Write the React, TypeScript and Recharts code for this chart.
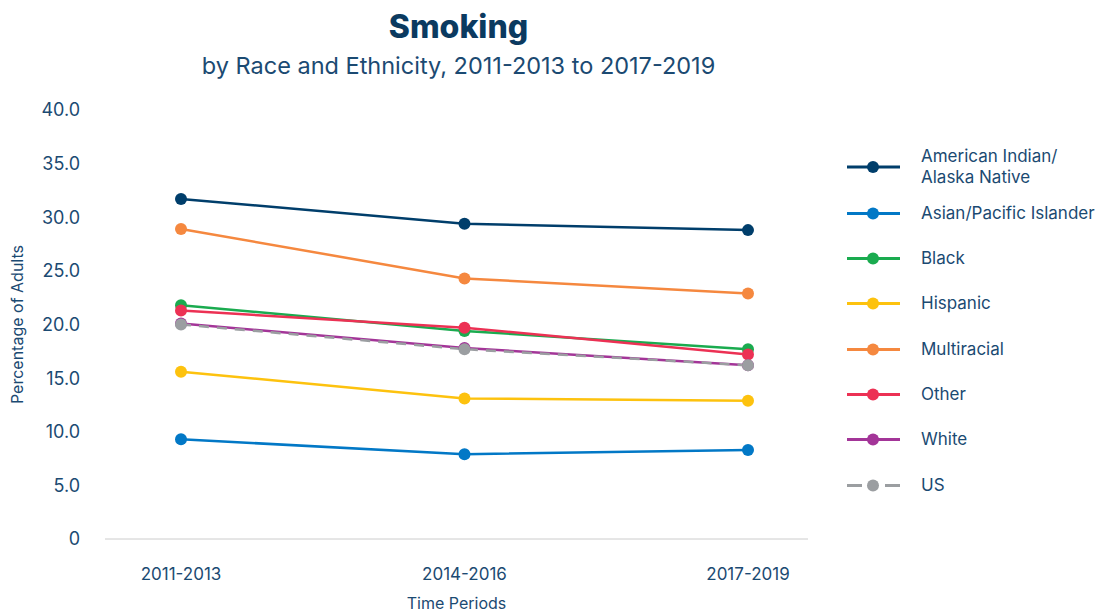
import React from "react";
import { LineChart, Line, XAxis, YAxis } from "recharts";

const periods = ["2011-2013", "2014-2016", "2017-2019"];
const aian = [31.7, 29.4, 28.8];
const asianPI = [9.3, 7.9, 8.3];
const black = [21.8, 19.4, 17.7];
const hispanic = [15.6, 13.1, 12.9];
const multiracial = [28.9, 24.3, 22.9];
const other = [21.3, 19.7, 17.2];
const white = [20.1, 17.8, 16.2];
const us = [20.0, 17.7, 16.2];
const yTicks = [0, 5, 10, 15, 20, 25, 30, 35, 40];

const series = [
  { key: "aian", name: "American Indian/\nAlaska Native", values: aian, color: "#003e6b" },
  { key: "asian", name: "Asian/Pacific Islander", values: asianPI, color: "#0278c6" },
  { key: "black", name: "Black", values: black, color: "#1aab4f" },
  { key: "hispanic", name: "Hispanic", values: hispanic, color: "#fdc20e" },
  { key: "multi", name: "Multiracial", values: multiracial, color: "#f5883f" },
  { key: "other", name: "Other", values: other, color: "#ec3154" },
  { key: "white", name: "White", values: white, color: "#a33598" },
  { key: "us", name: "US", values: us, color: "#9b9ea1", dashed: true },
];

const data = periods.map((p, i) => {
  const row: Record<string, string | number> = { period: p };
  series.forEach((s) => (row[s.key] = s.values[i]));
  return row;
});

const textColor = "#1b4a72";
const font = "Inter, 'Open Sans', sans-serif";

// legend row centres (y) in page pixels
const legendRows = [167, 213, 258, 303, 349, 394, 439, 485];

const LegendBox = () => (
  <div style={{ position: "absolute", left: 846, top: 0, fontFamily: font, color: textColor, fontSize: 17 }}>
    {series.map((s, i) => (
      <div
        key={s.key}
        style={{ position: "absolute", left: 0, top: legendRows[i], transform: "translateY(-50%)", display: "flex", alignItems: "center" }}
      >
        <svg width={56} height={14} style={{ flexShrink: 0 }}>
          {s.dashed ? (
            <>
              <line x1={1} x2={16} y1={7} y2={7} stroke={s.color} strokeWidth={3} />
              <line x1={39} x2={54} y1={7} y2={7} stroke={s.color} strokeWidth={3} />
            </>
          ) : (
            <line x1={1} x2={54} y1={7} y2={7} stroke={s.color} strokeWidth={3} />
          )}
          <circle cx={27} cy={7} r={6} fill={s.color} />
        </svg>
        <div style={{ marginLeft: 19, whiteSpace: "pre", lineHeight: "21px" }}>{s.name}</div>
      </div>
    ))}
  </div>
);

export default function App() {
  return (
    <div style={{ position: "absolute", left: 0, top: 0, width: 1097, height: 612, background: "#fff", fontFamily: font }}>
      <div style={{ position: "absolute", left: 0, width: 917, top: 7, textAlign: "center", color: "#0b3a60", fontSize: 32, fontWeight: 800 }}>
        Smoking
      </div>
      <div style={{ position: "absolute", left: 0, width: 917, top: 51, textAlign: "center", color: textColor, fontSize: 23.5 }}>
        by Race and Ethnicity, 2011-2013 to 2017-2019
      </div>
      <LineChart width={830} height={612} data={data} margin={{ top: 110, right: 22, left: 0, bottom: 0 }} style={{ position: "absolute", left: 0, top: 0 }}>
        <XAxis
          dataKey="period"
          height={73}
          padding={{ left: 76, right: 60 }}
          axisLine={{ stroke: "#cccccc" }}
          tickLine={false}
          tickMargin={23}
          tick={{ fill: textColor, fontSize: 17, fontFamily: font }}
          label={{ value: "Time Periods", position: "insideBottom", offset: 3, fill: textColor, fontSize: 16, fontFamily: font }}
        />
        <YAxis
          domain={[0, 40]}
          ticks={yTicks}
          width={105}
          axisLine={false}
          tickLine={false}
          tickMargin={19}
          tickFormatter={(v: number) => (v === 0 ? "0" : v.toFixed(1))}
          tick={{ fill: textColor, fontSize: 18, fontFamily: font }}
          label={{ value: "Percentage of Adults", angle: -90, position: "insideLeft", offset: 17, fill: textColor, fontSize: 16, fontFamily: font, style: { textAnchor: "middle" } }}
        />
        {series.map((s) => (
          <Line
            key={s.key}
            dataKey={s.key}
            name={s.name}
            type="linear"
            stroke={s.color}
            strokeWidth={2.5}
            strokeDasharray={s.dashed ? "10 8" : undefined}
            dot={{ r: 6, fill: s.color, stroke: s.color, strokeWidth: 0 }}
            activeDot={false}
            isAnimationActive={false}
          />
        ))}
      </LineChart>
      <LegendBox />
    </div>
  );
}
